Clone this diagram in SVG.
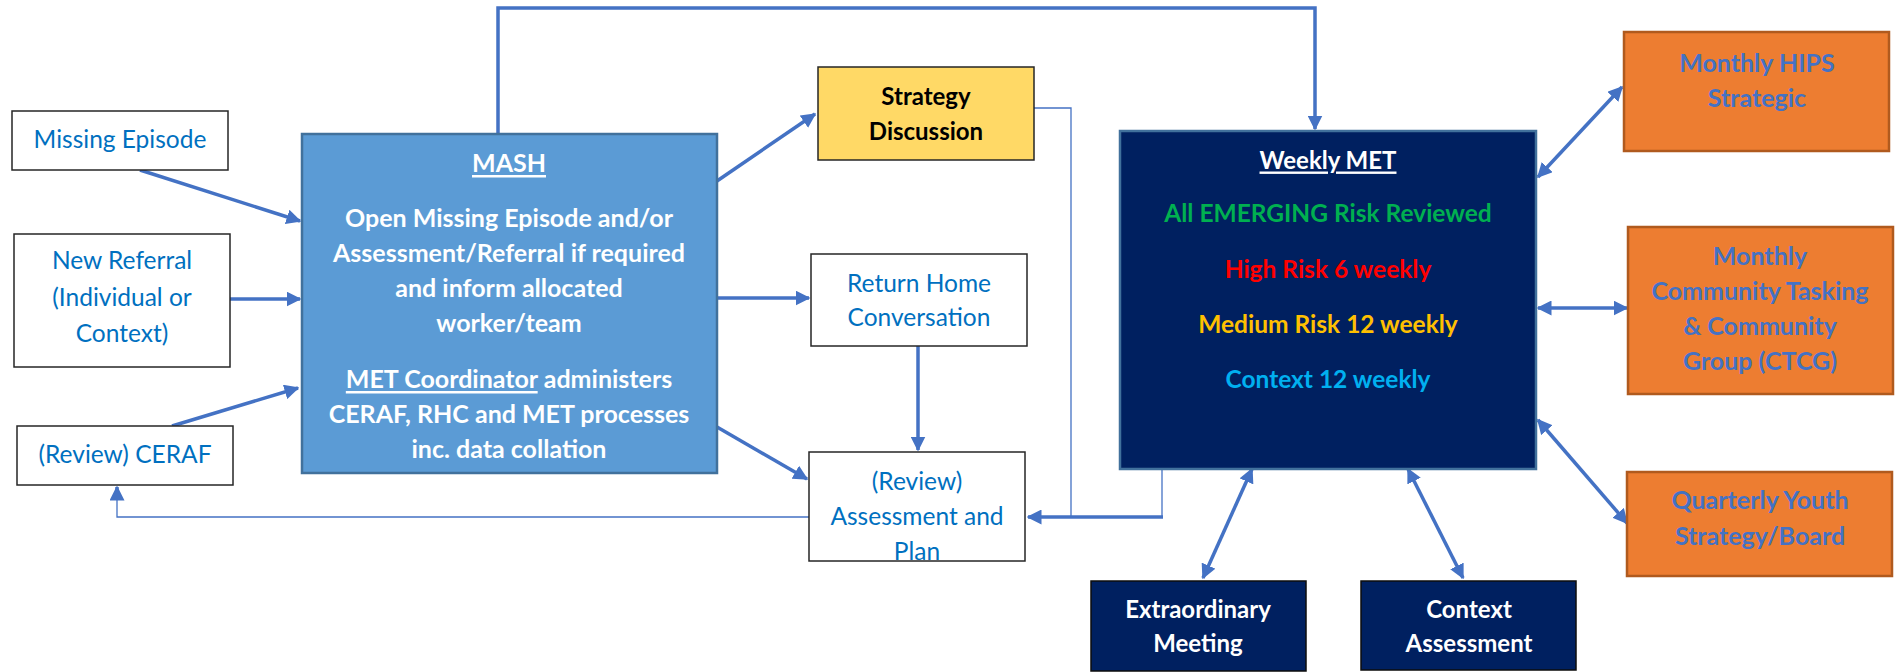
<svg xmlns="http://www.w3.org/2000/svg" width="1899" height="672" viewBox="0 0 1899 672">
  <defs>
    <marker id="arrow" viewBox="0 0 10 10" refX="9" refY="5" markerWidth="15" markerHeight="15" markerUnits="userSpaceOnUse" orient="auto-start-reverse">
      <path d="M0,0 L10,5 L0,10 z" fill="#4472C4"/>
    </marker>
    <style>
      .txt { font-family: Lato, "Liberation Sans", sans-serif; text-anchor: middle; dominant-baseline: central; }
      .plain { fill: #FFFFFF; stroke: #262626; stroke-width: 1.5; }
      .plain-t { fill: #0070C0; font-size: 24.5px; }
      .mash { fill: #5B9BD5; stroke: #41719C; stroke-width: 2.5; }
      .mash-t { fill: #FFFFFF; font-size: 25px; font-weight: bold; }
      .navy { fill: #002060; stroke: #41719C; stroke-width: 2.5; }
      .navy-box { fill: #002060; stroke: #0D0D0D; stroke-width: 1.5; }
      .white-b { fill: #FFFFFF; font-size: 24px; font-weight: bold; }
      .met-t { font-size: 24.5px; font-weight: bold; }
      .orange { fill: #ED7D31; stroke: #B05A1E; stroke-width: 2.5; }
      .orange-t { fill: #4472C4; font-size: 25px; font-weight: bold; }
      .gold { fill: #FFD966; stroke: #262626; stroke-width: 1.5; }
      .gold-t { fill: #000000; font-size: 24px; font-weight: bold; }
      .thick { fill: none; stroke: #4472C4; stroke-width: 3.5; }
      .thin { fill: none; stroke: #4472C4; stroke-width: 1.3; }
    </style>
  </defs>

  <!-- connectors -->
  <g id="connectors">
    <path class="thick" d="M140,170 L300,221" marker-end="url(#arrow)"/>
    <path class="thick" d="M230,299 L300,299" marker-end="url(#arrow)"/>
    <path class="thick" d="M172,426 L298,388" marker-end="url(#arrow)"/>
    <path class="thick" d="M498,134 L498,8 L1315,8 L1315,129" marker-end="url(#arrow)"/>
    <path class="thick" d="M717,181 L815,114" marker-end="url(#arrow)"/>
    <path class="thick" d="M717,298 L809,298" marker-end="url(#arrow)"/>
    <path class="thick" d="M717,427 L807,479" marker-end="url(#arrow)"/>
    <path class="thick" d="M918,346 L918,450" marker-end="url(#arrow)"/>
    <path class="thin" d="M1034,108 L1071,108 L1071,517"/>
    <path class="thin" d="M1162,469 L1162,517"/>
    <path class="thick" d="M1163,517 L1028,517" marker-end="url(#arrow)"/>
    <path class="thin" d="M809,517 L117,517 L117,495"/>
    <path class="thick" d="M117,500 L117,487" marker-end="url(#arrow)"/>
    <path class="thick" d="M1538,177 L1622,87" marker-start="url(#arrow)" marker-end="url(#arrow)"/>
    <path class="thick" d="M1538,308 L1627,308" marker-start="url(#arrow)" marker-end="url(#arrow)"/>
    <path class="thick" d="M1538,420 L1627,523" marker-start="url(#arrow)" marker-end="url(#arrow)"/>
    <path class="thick" d="M1203,578 L1252,469" marker-start="url(#arrow)" marker-end="url(#arrow)"/>
    <path class="thick" d="M1408,469 L1463,578" marker-start="url(#arrow)" marker-end="url(#arrow)"/>
  </g>

  <g id="missing-episode">
    <rect class="plain" x="12" y="111" width="216" height="59"/>
    <text class="txt plain-t" x="120" y="138">Missing Episode</text>
  </g>

  <g id="new-referral">
    <rect class="plain" x="14" y="234" width="216" height="133"/>
    <text class="txt plain-t" x="122" y="259">New Referral</text>
    <text class="txt plain-t" x="122" y="296">(Individual or</text>
    <text class="txt plain-t" x="122" y="332">Context)</text>
  </g>

  <g id="review-ceraf">
    <rect class="plain" x="17" y="426" width="216" height="59"/>
    <text class="txt plain-t" x="125" y="453">(Review) CERAF</text>
  </g>

  <g id="mash">
    <rect class="mash" x="302" y="134" width="415" height="339"/>
    <text class="txt mash-t" x="509" y="162" text-decoration="underline">MASH</text>
    <text class="txt mash-t" x="509" y="217">Open Missing Episode and/or</text>
    <text class="txt mash-t" x="509" y="252">Assessment/Referral if required</text>
    <text class="txt mash-t" x="509" y="287">and inform allocated</text>
    <text class="txt mash-t" x="509" y="322">worker/team</text>
    <text class="txt mash-t" x="509" y="378"><tspan text-decoration="underline">MET Coordinator</tspan> administers</text>
    <text class="txt mash-t" x="509" y="413">CERAF, RHC and MET processes</text>
    <text class="txt mash-t" x="509" y="448">inc. data collation</text>
  </g>

  <g id="strategy-discussion">
    <rect class="gold" x="818" y="67" width="216" height="93"/>
    <text class="txt gold-t" x="926" y="95">Strategy</text>
    <text class="txt gold-t" x="926" y="130">Discussion</text>
  </g>

  <g id="return-home">
    <rect class="plain" x="811" y="254" width="216" height="92"/>
    <text class="txt plain-t" x="919" y="282">Return Home</text>
    <text class="txt plain-t" x="919" y="316">Conversation</text>
  </g>

  <g id="review-assessment">
    <rect class="plain" x="809" y="452" width="216" height="109"/>
    <text class="txt plain-t" x="917" y="480">(Review)</text>
    <text class="txt plain-t" x="917" y="515">Assessment and</text>
    <text class="txt plain-t" x="917" y="550">Plan</text>
  </g>

  <g id="weekly-met">
    <rect class="navy" x="1120" y="131" width="416" height="338"/>
    <text class="txt white-b" x="1328" y="159" text-decoration="underline">Weekly MET</text>
    <text class="txt met-t" x="1328" y="212" fill="#00B050">All EMERGING Risk Reviewed</text>
    <text class="txt met-t" x="1328" y="268" fill="#FF0000">High Risk 6 weekly</text>
    <text class="txt met-t" x="1328" y="323" fill="#FFC000">Medium Risk 12 weekly</text>
    <text class="txt met-t" x="1328" y="378" fill="#00B0F0">Context 12 weekly</text>
  </g>

  <g id="extraordinary-meeting">
    <rect class="navy-box" x="1091" y="581" width="215" height="90"/>
    <text class="txt white-b" x="1198" y="608">Extraordinary</text>
    <text class="txt white-b" x="1198" y="642">Meeting</text>
  </g>

  <g id="context-assessment">
    <rect class="navy-box" x="1361" y="581" width="215" height="89"/>
    <text class="txt white-b" x="1469" y="608">Context</text>
    <text class="txt white-b" x="1469" y="642">Assessment</text>
  </g>

  <g id="monthly-hips">
    <rect class="orange" x="1624" y="32" width="265" height="119"/>
    <text class="txt orange-t" x="1757" y="62">Monthly HIPS</text>
    <text class="txt orange-t" x="1757" y="97">Strategic</text>
  </g>

  <g id="monthly-ctcg">
    <rect class="orange" x="1628" y="227" width="265" height="167"/>
    <text class="txt orange-t" x="1760" y="255">Monthly</text>
    <text class="txt orange-t" x="1760" y="290">Community Tasking</text>
    <text class="txt orange-t" x="1760" y="325">&amp; Community</text>
    <text class="txt orange-t" x="1760" y="360">Group (CTCG)</text>
  </g>

  <g id="quarterly-youth">
    <rect class="orange" x="1627" y="472" width="265" height="104"/>
    <text class="txt orange-t" x="1760" y="499">Quarterly Youth</text>
    <text class="txt orange-t" x="1760" y="535">Strategy/Board</text>
  </g>
</svg>
